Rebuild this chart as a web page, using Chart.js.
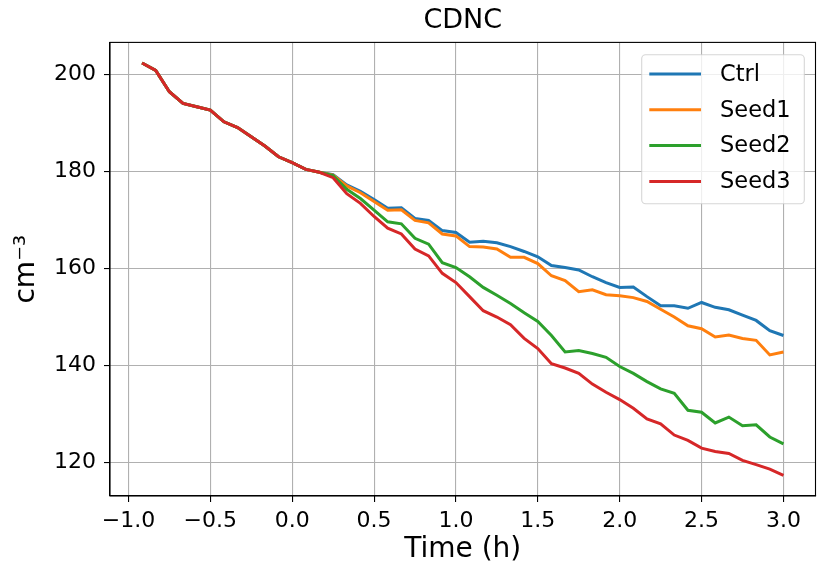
<!DOCTYPE html>
<html>
<head>
<meta charset="utf-8">
<script src="https://cdn.jsdelivr.net/npm/chart.js@4/dist/chart.umd.min.js"></script>
<style>
  html, body { margin: 0; padding: 0; background: #fff; }
  canvas { display: block; }
</style>
</head>
<body>
<canvas id="myChart" width="817" height="569"></canvas>
<script>
// time in hours, one point every 5 minutes
var times = [-0.9167, -0.8333, -0.75, -0.6667, -0.5833, -0.5, -0.4167, -0.3333, -0.25, -0.1667, -0.0833, 0,
  0.0833, 0.1667, 0.25, 0.3333, 0.4167, 0.5, 0.5833, 0.6667, 0.75, 0.8333, 0.9167, 1.0,
  1.0833, 1.1667, 1.25, 1.3333, 1.4167, 1.5, 1.5833, 1.6667, 1.75, 1.8333, 1.9167, 2.0,
  2.0833, 2.1667, 2.25, 2.3333, 2.4167, 2.5, 2.5833, 2.6667, 2.75, 2.8333, 2.9167, 3.0];

var ctrl = [202.3, 200.8, 196.4, 194.0, 193.3, 192.6, 190.2, 189.0, 187.1, 185.2, 183.0, 181.8,
  180.4, 179.8, 179.3, 177.2, 175.9, 174.2, 172.4, 172.5, 170.3, 169.9, 167.8, 167.4,
  165.4, 165.6, 165.3, 164.5, 163.5, 162.4, 160.6, 160.2, 159.7, 158.3, 157.1, 156.1,
  156.2, 154.2, 152.3, 152.3, 151.8, 153.0, 152.0, 151.5, 150.4, 149.3, 147.2, 146.2];

var seed1 = [202.3, 200.8, 196.4, 194.0, 193.3, 192.6, 190.2, 189.0, 187.1, 185.2, 183.0, 181.8,
  180.4, 179.8, 179.2, 177.0, 175.6, 173.8, 172.0, 172.1, 169.9, 169.4, 167.1, 166.7,
  164.5, 164.4, 164.0, 162.3, 162.3, 161.0, 158.5, 157.5, 155.2, 155.6, 154.6, 154.4,
  154.0, 153.2, 151.6, 150.0, 148.2, 147.6, 145.9, 146.3, 145.6, 145.2, 142.2, 142.8];

var seed2 = [202.3, 200.8, 196.4, 194.0, 193.3, 192.6, 190.2, 189.0, 187.1, 185.2, 183.0, 181.8,
  180.4, 179.8, 179.1, 176.3, 174.4, 172.0, 169.6, 169.2, 166.2, 165.0, 161.2, 160.2,
  158.3, 156.1, 154.5, 152.8, 150.9, 149.1, 146.2, 142.8, 143.1, 142.5, 141.7, 139.8,
  138.4, 136.7, 135.2, 134.3, 130.8, 130.4, 128.2, 129.4, 127.6, 127.8, 125.3, 123.9];

var seed3 = [202.3, 200.8, 196.4, 194.0, 193.3, 192.6, 190.2, 189.0, 187.1, 185.2, 183.0, 181.8,
  180.4, 179.8, 178.7, 175.4, 173.4, 170.7, 168.3, 167.1, 164.0, 162.6, 159.0, 157.1,
  154.2, 151.3, 150.0, 148.4, 145.6, 143.5, 140.4, 139.5, 138.4, 136.2, 134.5, 133.0,
  131.2, 129.0, 128.0, 125.7, 124.6, 123.0, 122.3, 121.9, 120.5, 119.6, 118.7, 117.4];

var seriesNames = ["Ctrl", "Seed1", "Seed2", "Seed3"];
var seriesColors = ["#1f77b4", "#ff7f0e", "#2ca02c", "#d62728"];

var xTicks = [-1.0, -0.5, 0.0, 0.5, 1.0, 1.5, 2.0, 2.5, 3.0];
var yTicks = [120, 140, 160, 180, 200];

var FONT = "'DejaVu Sans', sans-serif";

function toPoints(ys) {
  return ys.map(function (y, i) { return { x: times[i], y: y }; });
}

// full box around the axes + legend in the upper right corner
var framePlugin = {
  id: "frameAndLegend",
  afterDatasetsDraw: function (chart) {
    var ctx = chart.ctx, a = chart.chartArea;
    ctx.save();
    ctx.strokeStyle = "#000";
    ctx.lineWidth = 1.1;
    ctx.strokeRect(a.left, a.top, a.right - a.left, a.bottom - a.top);

    var bw = 162.6, bh = 149;
    var bx = a.right - 11.2 - bw, by = a.top + 12.3;
    var r = 4;
    ctx.beginPath();
    ctx.moveTo(bx + r, by);
    ctx.arcTo(bx + bw, by, bx + bw, by + bh, r);
    ctx.arcTo(bx + bw, by + bh, bx, by + bh, r);
    ctx.arcTo(bx, by + bh, bx, by, r);
    ctx.arcTo(bx, by, bx + bw, by, r);
    ctx.closePath();
    ctx.fillStyle = "rgba(255,255,255,0.8)";
    ctx.fill();
    ctx.strokeStyle = "rgba(204,204,204,0.8)";
    ctx.lineWidth = 1.1;
    ctx.stroke();

    ctx.font = "22.5px " + FONT;
    ctx.textBaseline = "middle";
    ctx.textAlign = "left";
    chart.data.datasets.forEach(function (ds, i) {
      var yy = by + 19.3 + i * 35.8;
      ctx.beginPath();
      ctx.moveTo(bx + 7.6, yy);
      ctx.lineTo(bx + 59.3, yy);
      ctx.strokeStyle = ds.borderColor;
      ctx.lineWidth = ds.borderWidth;
      ctx.stroke();
      ctx.fillStyle = "#000";
      ctx.fillText(ds.label, bx + 78.3, yy + 1);
    });
    ctx.restore();
  }
};

function fmtTick(v) {
  return (v < 0 ? "\u2212" : "") + Math.abs(v).toFixed(1);
}

new Chart("myChart", {
  type: "line",
  data: {
    datasets: [ctrl, seed1, seed2, seed3].map(function (ys, i) {
      return {
        label: seriesNames[i],
        data: toPoints(ys),
        borderColor: seriesColors[i],
        backgroundColor: seriesColors[i],
        borderWidth: 3,
        pointRadius: 0,
        tension: 0,
        fill: false,
        order: 3 - i   // later series drawn on top, like matplotlib
      };
    })
  },
  options: {
    responsive: false,
    animation: false,
    layout: { padding: { left: 0, right: 1.5, top: 0, bottom: 0 } },
    plugins: {
      legend: { display: false },
      tooltip: { enabled: false },
      title: {
        display: true,
        text: "CDNC",
        fullSize: false,
        color: "#000",
        font: { family: FONT, size: 27, weight: "normal" },
        padding: { top: 5, bottom: 5 }
      }
    },
    scales: {
      x: {
        type: "linear",
        min: -1.1125,
        max: 3.1958,
        afterBuildTicks: function (s) { s.ticks = xTicks.map(function (v) { return { value: v }; }); },
        afterFit: function (s) { s.height = 73; },
        ticks: {
          autoSkip: false, maxRotation: 0, padding: 6, color: "#000",
          font: { family: FONT, size: 22 },
          callback: fmtTick
        },
        grid: { color: "#b0b0b0", lineWidth: 1.1, tickColor: "#000", tickLength: 6, tickWidth: 1.1 },
        border: { color: "#000", width: 1.1 },
        title: {
          display: true, text: "Time (h)", color: "#000",
          font: { family: FONT, size: 28 },
          padding: { top: 0, bottom: 2 }
        }
      },
      y: {
        min: 113.15,
        max: 206.55,
        afterBuildTicks: function (s) { s.ticks = yTicks.map(function (v) { return { value: v }; }); },
        afterFit: function (s) { s.width = 110; },
        ticks: {
          padding: 8, color: "#000",
          font: { family: FONT, size: 22 },
          callback: function (v) { return String(v); }
        },
        grid: { color: "#b0b0b0", lineWidth: 1.1, tickColor: "#000", tickLength: 6, tickWidth: 1.1 },
        border: { color: "#000", width: 1.1 },
        title: {
          display: true, text: "cm\u207B\u00B3", color: "#000",
          font: { family: FONT, size: 28 },
          padding: { top: 10, bottom: 0 }
        }
      }
    }
  },
  plugins: [framePlugin]
});
</script>
</body>
</html>
